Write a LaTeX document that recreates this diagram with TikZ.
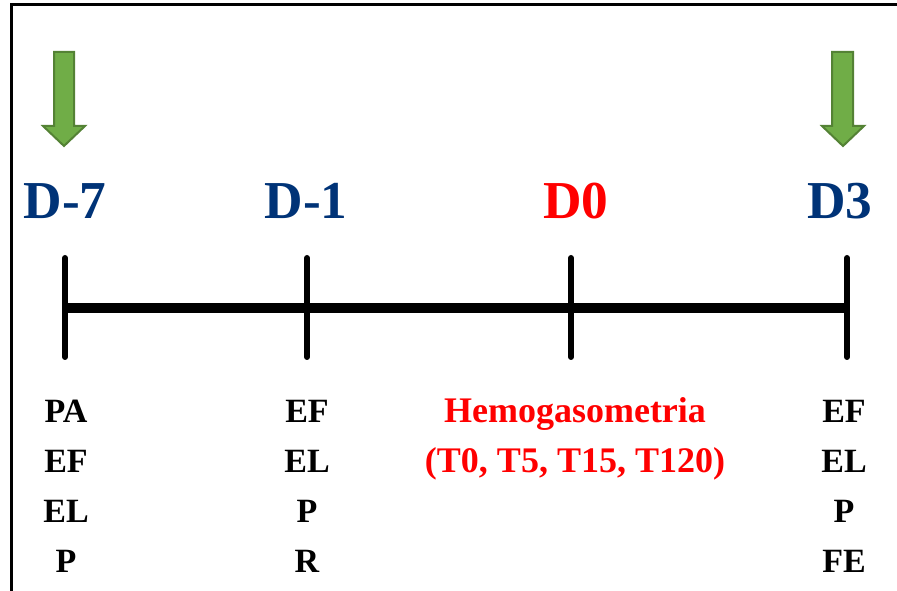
\documentclass[tikz,border=0pt]{standalone}
\usepackage{fontspec}
\setmainfont{Liberation Serif}
\definecolor{dblue}{RGB}{0,51,119}
\definecolor{agreen}{RGB}{112,173,71}
\definecolor{agreend}{RGB}{84,130,53}
\begin{document}
\begin{tikzpicture}[x=0.75pt,y=-0.75pt,
  day/.style={anchor=base,font=\fontsize{40}{44}\selectfont\bfseries},
  lab/.style={anchor=base,font=\fontsize{25.5}{30}\selectfont\bfseries},
  redlab/.style={anchor=base,text=red,font=\fontsize{27}{31}\selectfont\bfseries},
  tick/.style={line width=4.5pt,line cap=round},
  axis/.style={line width=7.5pt},
  garrow/.style={fill=agreen,draw=agreend,line width=1.5pt,line join=miter}]
\useasboundingbox (0,0) rectangle (897,591);
% frame
\draw[line width=2.25pt] (11,600) -- (11,5) -- (905,5);
% timeline
\coordinate (a) at (65,308);
\coordinate (b) at (307,308);
\coordinate (c) at (571,308);
\coordinate (d) at (847,308);
\draw[axis] (a) -- (d);
\foreach \p in {a,b,c,d}{
  \draw[tick] ([yshift=37.5pt]\p) -- ([yshift=-36.75pt]\p);
}
% arrows
\draw[garrow] (54,52) -- (74,52) -- (74,126) -- (85,126) -- (64,146) -- (43,126) -- (54,126) -- cycle;
\draw[garrow] (832,52) -- (853,52) -- (853,126) -- (864,126) -- (843,146) -- (822,126) -- (832,126) -- cycle;
% day labels
\node[day,text=dblue] (d7) at (65,219) {D-7};
\node[day,text=dblue] (d1) at (306,219) {D-1};
\node[day,text=red] (d0) at (576,219) {D0};
\node[day,text=dblue] (d3) at (840,219) {D3};
% column texts
\node[lab] (a1) at (66,423) {PA};
\node[lab] (a2) at (66,473) {EF};
\node[lab] (a3) at (66,523) {EL};
\node[lab] (a4) at (66,573) {P};
\node[lab] (b1) at (307,423) {EF};
\node[lab] (b2) at (307,473) {EL};
\node[lab] (b3) at (307,523) {P};
\node[lab] (b4) at (307,573) {R};
\node[redlab] (c1) at (575,423) {Hemogasometria};
\node[redlab] (c2) at (575,473) {(T0, T5, T15, T120)};
\node[lab] (e1) at (844,423) {EF};
\node[lab] (e2) at (844,473) {EL};
\node[lab] (e3) at (844,523) {P};
\node[lab] (e4) at (844,573) {FE};
\end{tikzpicture}
\end{document}
